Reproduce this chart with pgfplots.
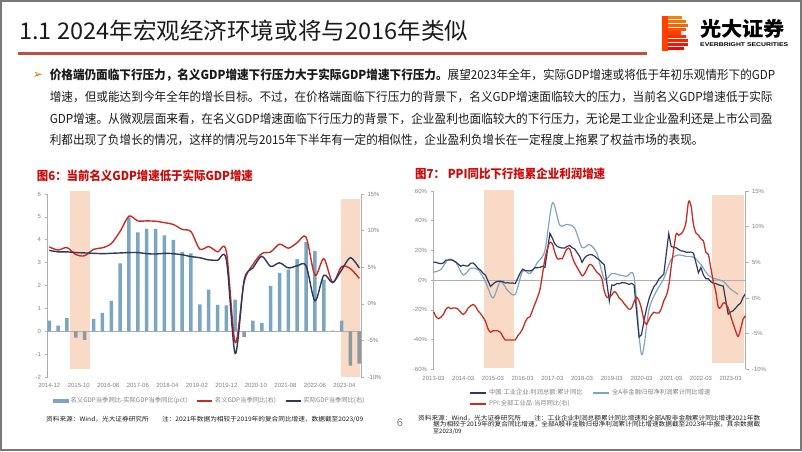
\documentclass[border=0pt]{standalone}
\usepackage{pgfplots}
\pgfplotsset{compat=1.18}
\usepackage{fontspec}
\usepackage{graphicx}
\setmainfont{Liberation Sans}
\newfontfamily\cjk{Noto Sans CJK SC}
\newfontfamily\dejavu{DejaVu Sans}
\definecolor{axisgray}{RGB}{175,175,175}
\definecolor{ticklab}{RGB}{128,128,128}
\definecolor{peach}{RGB}{249,218,199}
\definecolor{barblue}{RGB}{122,166,191}
\definecolor{barneg}{RGB}{141,152,160}
\definecolor{gdpred}{RGB}{200,45,35}
\definecolor{navy}{RGB}{46,56,94}
\definecolor{lblue}{RGB}{127,166,190}
\definecolor{titlered}{RGB}{204,10,10}
\definecolor{rulecol}{RGB}{190,80,60}
\definecolor{framegray}{RGB}{120,120,120}
\definecolor{bodytext}{RGB}{26,26,26}
\definecolor{bulletc}{RGB}{228,108,10}
\newcommand\fitw[2]{\resizebox{#1}{\height}{#2}}
\pgfplotsset{
  commonax/.style={scale only axis, clip=false,
    axis line style={-, axisgray, line width=0.7pt},
    tick label style={font=\fontsize{6}{7}\selectfont, text=ticklab},
    major tick length=3pt, tick align=outside,
    ytick style={axisgray, line width=0.6pt},
    xtick style={draw=none}},
}
\begin{document}
\begin{tikzpicture}
\useasboundingbox (0pt,0pt) rectangle (802pt,-451pt);
\begin{scope}[x=1pt,y=-1pt]
% frame
\draw[framegray, line width=1.6pt] (0.8,0.8) rectangle (801.2,450.2);
% title
\node[anchor=west, inner sep=0, text=bodytext] at (19,31) {\fitw{449pt}{\cjk\fontsize{23}{26}\selectfont 1.1 2024年宏观经济环境或将与2016年类似}};
\fill[rulecol] (18,52.2) rectangle (647,54.6);
% logo icon
\foreach \k/\w/\c in {0/20/0,1/24/12,2/26/25,3/24/37,4/19/50,5/24/62,6/26/75,7/26/87,8/22/100}{
  \fill[red!\c!orange] (662,16+\k*3.85) rectangle (662+\w,16+\k*3.85+3.1);
}
\fill[red!50!orange] (662,16) rectangle (668,50.6);
\node[anchor=west, inner sep=0] at (700,28.5) {\fitw{85pt}{\cjk\bfseries\fontsize{20}{22}\selectfont 光大证券}};
\node[anchor=west, inner sep=0] at (700,45) {\fitw{88pt}{\bfseries\fontsize{5.5}{6}\selectfont EVERBRIGHT SECURITIES}};
% body text
\node[text=bulletc, inner sep=0] at (38,75.5) {\dejavu\fontsize{12}{13}\selectfont ➢};
\node[anchor=west, inner sep=0, text=bodytext] at (49.6,75.3) {\fitw{725.4pt}{\cjk\fontsize{12.3}{14}\selectfont {\bfseries 价格端仍面临下行压力，名义GDP增速下行压力大于实际GDP增速下行压力。}展望2023年全年，实际GDP增速或将低于年初乐观情形下的GDP}};
\node[anchor=west, inner sep=0, text=bodytext] at (49.6,97) {\fitw{722.8pt}{\cjk\fontsize{12.3}{14}\selectfont 增速，但或能达到今年全年的增长目标。不过，在价格端面临下行压力的背景下，名义GDP增速面临较大的压力，当前名义GDP增速低于实际}};
\node[anchor=west, inner sep=0, text=bodytext] at (49.6,118.7) {\fitw{722.8pt}{\cjk\fontsize{12.3}{14}\selectfont GDP增速。从微观层面来看，在名义GDP增速面临下行压力的背景下，企业盈利也面临较大的下行压力，无论是工业企业盈利还是上市公司盈}};
\node[anchor=west, inner sep=0, text=bodytext] at (49.6,140.3) {\fitw{653.7pt}{\cjk\fontsize{12.3}{14}\selectfont 利都出现了负增长的情况，这样的情况与2015年下半年有一定的相似性，企业盈利负增长在一定程度上拖累了权益市场的表现。}};
% chart titles
\node[anchor=west, inner sep=0, text=titlered] at (36.7,176) {\fitw{216pt}{\cjk\bfseries\fontsize{12.3}{14}\selectfont 图6：当前名义GDP增速低于实际GDP增速}};
\node[anchor=west, inner sep=0, text=titlered] at (415,173.5) {\fitw{190pt}{\cjk\bfseries\fontsize{12.3}{14}\selectfont 图7： PPI同比下行拖累企业利润增速}};
% notes
\node[anchor=west, inner sep=0, text=bodytext] at (46,419) {\fitw{317pt}{\cjk\fontsize{6.2}{7}\selectfont 资料来源：Wind，光大证券研究所　　注：2021年数据为相较于2019年的复合同比增速，数据截至2023/09}};
\node[anchor=west, inner sep=0, text=bodytext] at (418,417.7) {\fitw{342pt}{\cjk\fontsize{6.2}{7}\selectfont 资料来源：Wind，光大证券研究所　　注：工业企业利润总额累计同比增速和全部A股非金融累计同比增速2021年数}};
\node[anchor=west, inner sep=0, text=bodytext] at (433,424.4) {\fitw{327pt}{\cjk\fontsize{6.2}{7}\selectfont 据为相较于2019年的复合同比增速，全部A股非金融归母净利润累计同比增速数据截至2023年中报，其余数据截}};
\node[anchor=west, inner sep=0, text=bodytext] at (433,431.4) {\cjk\fontsize{6}{7}\selectfont 至2023/09};
\node[text=ticklab, inner sep=0] at (400,423) {\fontsize{11}{12}\selectfont 6};
\end{scope}

% ===== Left chart: bars (left axis)
\begin{axis}[commonax, at={(47.5pt,-377pt)}, anchor=south west,
  width=313.5pt, height=183pt,
  xmin=-0.2, xmax=35.2, ymin=-2, ymax=6,
  axis x line*=bottom, axis y line*=left,
  x axis line style={draw=none},
  xtick={0,3.33333,6.66667,10,13.33333,16.66667,20,23.33333,26.66667,30,33.33333},
  xticklabels={2014-12,2015-10,2016-08,2017-06,2018-04,2019-02,2019-12,2020-10,2021-08,2022-06,2023-04},
  ytick={-2,-1,0,1,2,3,4,5,6}, yticklabels={-2,-1,0,1,2,3,4,5,6},
]
\fill[peach] (axis cs:2.36,-1.67) rectangle (axis cs:4.62,6.13);
\fill[peach] (axis cs:32.9,-2) rectangle (axis cs:35.1,5.78);
\draw[axisgray, line width=0.7pt] (axis cs:-0.2,0) -- (axis cs:35.2,0);
\addplot[ybar, bar width=3.5pt, bar shift=0pt, fill=barblue, draw=none] coordinates {
(0,0.47)(1,0.25)(2,0.58)(5,0.54)(6,0.80)(7,1.33)(8,2.97)(9,4.98)(10,4.32)(11,4.48)(12,4.48)(13,4.19)(14,3.99)(15,3.47)(16,3.41)(17,1.17)(18,1.82)(19,1.15)(20,1.13)(21,1.38)(23,0.47)(24,0.37)(25,1.98)(26,2.55)(27,2.70)(28,3.15)(29,3.90)(30,3.50)(31,2.26)(32,0.03)(33,0.47)};
\addplot[ybar, bar width=3.5pt, bar shift=0pt, fill=barneg, draw=none] coordinates {
(3,-0.28)(4,-0.38)(22,-0.26)(34,-1.50)(35,-1.42)};
\end{axis}

% ===== Left chart: lines (right axis)
\begin{axis}[commonax, at={(47.5pt,-377pt)}, anchor=south west,
  width=313.5pt, height=183pt,
  xmin=-0.2, xmax=35.2, ymin=-10, ymax=15,
  axis x line=none, axis y line*=right,
  ytick={-10,-5,0,5,10,15}, yticklabels={-10\%,-5\%,0\%,5\%,10\%,15\%},
  legend style={at={(0.518,-0.13)}, anchor=center, draw=none, fill=none,
    font=\cjk\fontsize{6.3}{7}\selectfont, text=ticklab, inner sep=0pt,
    /tikz/every even column/.append style={column sep=7pt}},
  legend columns=3, legend cell align=left,
  legend image code/.code={\draw[#1, line width=1.5pt] (0pt,0pt) -- (15pt,0pt);},
]
\addlegendimage{barblue, legend image code/.code={\fill[barblue] (0pt,-1.4pt) rectangle (15pt,1.4pt);}}
\addlegendentry{名义GDP当季同比-实际GDP当季同比(pct)}
\addplot[gdpred, line width=1.4pt, smooth] coordinates {
(0,7.77)(1,7.35)(2,7.68)(3,6.72)(4,6.57)(5,7.44)(6,7.65)(7,8.23)(8,9.9)(9,11.98)(10,11.32)(11,11.33)(12,11.28)(13,11.09)(14,10.84)(15,10.17)(16,9.86)(17,7.47)(18,7.82)(19,7.10)(20,7.13)(21,-5.3)(22,2.94)(23,5.37)(24,6.87)(25,7.08)(26,8.15)(27,7.6)(28,8.35)(29,9.1)(30,3.9)(31,6.16)(32,2.92)(33,5.07)(34,4.8)(35,3.48)};
\addlegendentry{名义GDP当季同比(右)}
\addplot[navy, line width=1.4pt, smooth] coordinates {
(0,7.3)(1,7.1)(2,7.1)(3,7.0)(4,6.95)(5,6.9)(6,6.85)(7,6.9)(8,6.95)(9,7.0)(10,7.0)(11,6.85)(12,6.8)(13,6.9)(14,6.85)(15,6.7)(16,6.45)(17,6.3)(18,6.0)(19,5.95)(20,6.0)(21,-6.8)(22,3.2)(23,4.9)(24,6.5)(25,5.1)(26,5.6)(27,4.9)(28,5.2)(29,5.2)(30,0.4)(31,3.9)(32,2.9)(33,4.6)(34,6.3)(35,4.9)};
\addlegendentry{实际GDP当季同比(右)}
\end{axis}

% ===== Right chart: left axis
\begin{axis}[commonax, at={(433.5pt,-369.3pt)}, anchor=south west,
  width=312pt, height=178.3pt,
  xmin=0, xmax=126, ymin=-60, ymax=60,
  axis x line*=bottom, axis y line*=left,
  x axis line style={draw=none},
  xtick={0,12,24,36,48,60,72,84,96,108,120},
  xticklabels={2013-03,2014-03,2015-03,2016-03,2017-03,2018-03,2019-03,2020-03,2021-03,2022-03,2023-03},
  ytick={-60,-40,-20,0,20,40,60}, yticklabels={-60\%,-40\%,-20\%,0\%,20\%,40\%,60\%},
]
\fill[peach] (axis cs:20.2,-59.3) rectangle (axis cs:32.6,61);
\fill[peach] (axis cs:112.5,-55.9) rectangle (axis cs:125.2,57.4);
\draw[axisgray, line width=0.7pt] (axis cs:0,0) -- (axis cs:126,0);
\addplot[lblue, line width=1.2pt, smooth] coordinates {
(0,5.4)(3,7.2)(6,14)(9,12)(12,3.5)(15,8)(18,7)(21,-1)(24,-12)(27,-1)(30,-7)(33,-9.5)(36,6)(39,4.5)(42,12)(45,20)(48,52)(51,37)(54,37.5)(57,35)(60,22)(63,24)(66,18)(69,0.7)(72,4.5)(75,3.5)(78,2.5)(81,2.0)(84,-50)(87,-20)(90,-7.5)(93,1)(96,14)(99,17)(102,16)(105,15.5)(108,10.5)(111,3.2)(114,0.8)(117,-0.8)(120,-6)(123,-9.5)};
\addplot[navy, line width=1.2pt] coordinates {
(0,12.1)(1,12.0)(2,11.4)(3,11.1)(4,11.6)(5,13.5)(6,13.5)(7,13.7)(8,13.2)(9,12.2)
(11,9.4)(12,10.1)(13,9.6)(14,9.6)(15,11.4)(16,11.6)(17,10.0)(18,7.9)(19,6.7)(20,4.7)(21,3.3)
(23,-4.2)(24,-2.7)(25,-1.3)(26,-0.8)(27,-0.7)(28,-1.0)(29,-1.9)(30,-1.7)(31,-2.0)(32,-1.9)(33,-2.3)
(35,4.8)(36,7.4)(37,6.5)(38,6.4)(39,6.2)(40,6.9)(41,8.4)(42,8.4)(43,8.6)(44,9.4)(45,8.5)
(47,31.5)(48,28.3)(49,24.4)(50,22.7)(51,22.0)(52,21.6)(53,21.6)(54,22.8)(55,23.3)(56,21.9)(57,21.0)
(59,16.1)(60,12.0)(61,15.0)(62,16.5)(63,17.2)(64,17.1)(65,16.2)(66,14.7)(67,13.6)(68,11.8)(69,10.3)
(71,-14.0)(72,-3.3)(73,-3.4)(74,-2.3)(75,-2.4)(76,-1.7)(77,-1.7)(78,-2.1)(79,-2.9)(80,-2.1)(81,-3.3)
(83,-38.3)(84,-36.7)(85,-27.4)(86,-19.3)(87,-12.8)(88,-8.1)(89,-4.4)(90,-2.4)(91,0.7)(92,2.4)(93,4.1)
(95,31.3)(96,22.6)(97,22.2)(98,21.8)(99,20.6)(100,19.7)(101,19.5)(102,18.8)(103,18.8)(104,18.9)(105,18.2)
(107,5.0)(108,8.5)(109,3.5)(110,1.0)(111,1.0)(112,-1.1)(113,-2.1)(114,-2.3)(115,-3.0)(116,-3.6)(117,-4.0)
(119,-22.9)(120,-21.4)(121,-20.6)(122,-18.8)(123,-16.8)(124,-15.5)(125,-11.7)(126,-9.0)};
\end{axis}

% ===== Right chart: right axis (PPI)
\begin{axis}[commonax, at={(433.5pt,-369.3pt)}, anchor=south west,
  width=312pt, height=178.3pt,
  xmin=0, xmax=126, ymin=-10, ymax=15,
  axis x line=none, axis y line*=right,
  ytick={-10,-5,0,5,10,15}, yticklabels={-10\%,-5\%,0\%,5\%,10\%,15\%},
  legend style={at={(0.505,-0.163)}, anchor=center, draw=none, fill=none,
    font=\cjk\fontsize{6.3}{7}\selectfont, text=ticklab, inner sep=0pt,
    /tikz/every even column/.append style={column sep=8pt}},
  legend columns=2, legend cell align=left,
  legend image code/.code={\draw[#1, line width=1.4pt] (0pt,0pt) -- (16pt,0pt);},
]
\addlegendimage{navy}
\addlegendentry{中国:工业企业:利润总额:累计同比}
\addlegendimage{lblue}
\addlegendentry{全A非金融归母净利润累计同比增速}
\addplot[gdpred, line width=1.3pt, smooth] coordinates {
(0,-1.9)(1,-2.6)(2,-2.9)(3,-2.7)(4,-2.3)(5,-1.6)(6,-1.3)(7,-1.5)(8,-1.4)(9,-1.4)
(10,-1.6)(11,-2.0)(12,-2.3)(13,-2.0)(14,-1.4)(15,-1.1)(16,-0.9)(17,-1.2)(18,-1.8)(19,-2.2)(20,-2.7)(21,-3.3)
(22,-4.3)(23,-4.8)(24,-4.6)(25,-4.6)(26,-4.6)(27,-4.8)(28,-5.4)(29,-5.9)(30,-5.9)(31,-5.9)(32,-5.9)(33,-5.9)
(34,-5.3)(35,-4.9)(36,-4.3)(37,-3.4)(38,-2.8)(39,-2.6)(40,-1.7)(41,-0.8)(42,0.1)(43,1.2)(44,3.3)(45,5.5)
(46,6.9)(47,7.8)(48,7.6)(49,6.4)(50,5.5)(51,5.5)(52,5.5)(53,6.3)(54,6.9)(55,6.9)(56,5.8)(57,4.9)
(58,4.3)(59,3.7)(60,3.1)(61,3.4)(62,4.1)(63,4.7)(64,4.6)(65,4.1)(66,3.6)(67,3.3)(68,2.7)(69,0.9)
(70,0.1)(71,0.1)(72,0.4)(73,0.9)(74,0.6)(75,0.0)(76,-0.3)(77,-0.8)(78,-1.2)(79,-1.6)(80,-1.4)(81,-0.5)
(82,0.1)(83,-0.4)(84,-1.5)(85,-3.1)(86,-3.7)(87,-3.0)(88,-2.4)(89,-2.0)(90,-2.1)(91,-2.1)(92,-1.5)(93,-0.4)
(94,0.3)(95,1.7)(96,4.4)(97,6.8)(98,9.0)(99,8.8)(100,9.0)(101,9.5)(102,10.7)(103,13.5)(104,12.9)(105,10.3)
(106,9.1)(107,8.8)(108,8.3)(109,8.0)(110,6.4)(111,6.1)(112,4.2)(113,2.3)(114,0.9)(115,-1.3)(116,-1.3)(117,-0.7)
(118,-0.8)(119,-1.4)(120,-2.5)(121,-3.6)(122,-4.6)(123,-5.4)(124,-4.4)(125,-3.0)(126,-2.5)};
\addlegendentry{PPI:全部工业品:当月同比(右)}
\end{axis}
\end{tikzpicture}
\end{document}
